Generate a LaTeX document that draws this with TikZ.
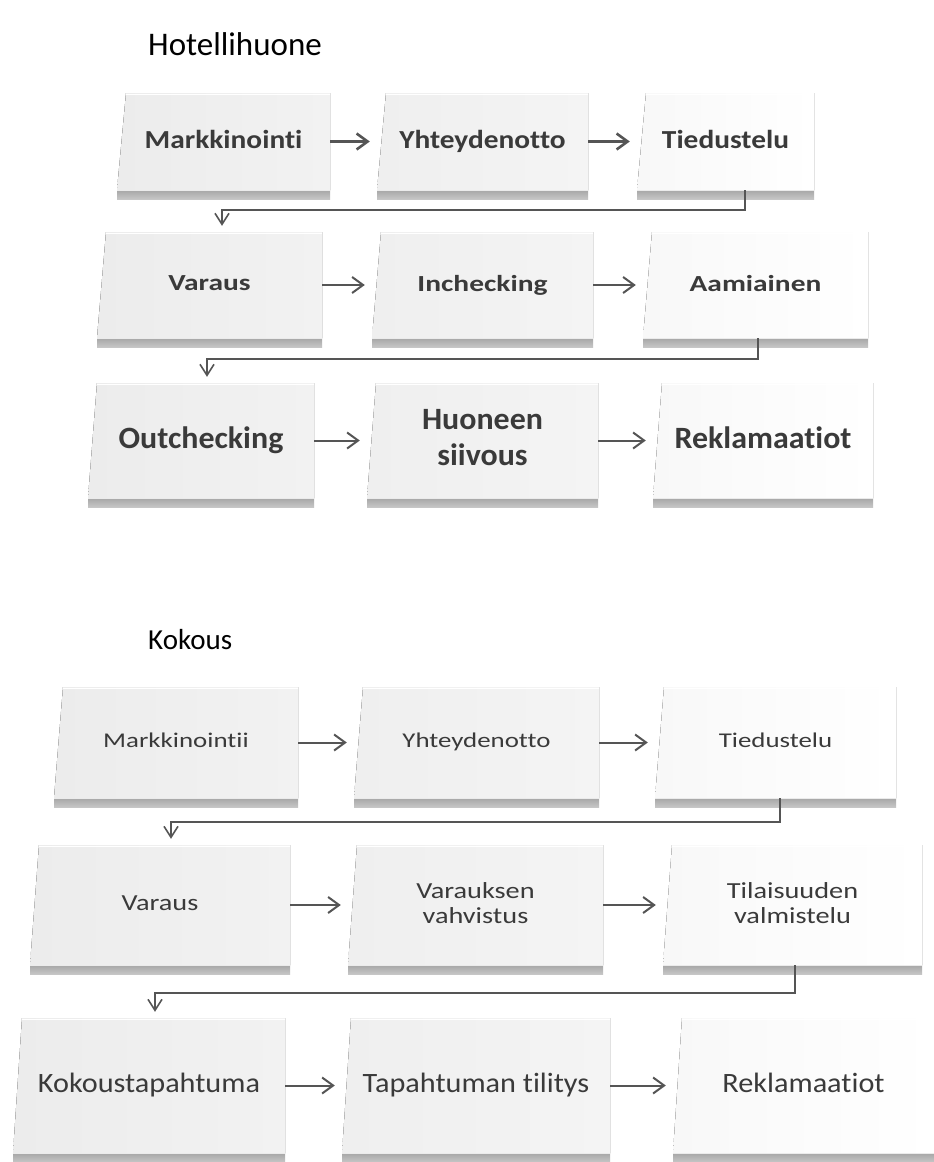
\documentclass[tikz,border=0pt]{standalone}
\usepackage{fontspec}
\defaultfontfeatures{Ligatures={NoCommon,TeX}}
\setmainfont{Carlito}
\usetikzlibrary{arrows.meta}
\newfontfamily\fRA[FakeStretch=1.13]{Carlito}
\newfontfamily\fRB[FakeStretch=1.28]{Carlito}
\newfontfamily\fRC[FakeStretch=1.03]{Carlito}
\newfontfamily\fKA[FakeStretch=1.28]{Carlito}
\newfontfamily\fKB[FakeStretch=1.23]{Carlito}
\newfontfamily\fKC[FakeStretch=1.08]{Carlito}
\definecolor{txtgray}{HTML}{3A3A3A}
\definecolor{lnc}{HTML}{555555}
\definecolor{shadA}{HTML}{A6A6A6}
\definecolor{shadB}{HTML}{C6C6C6}
\definecolor{cA}{HTML}{ECECEC}
\definecolor{cAr}{HTML}{F2F2F2}
\definecolor{cB}{HTML}{EFEFEF}
\definecolor{cBr}{HTML}{F4F4F4}
\definecolor{cC}{HTML}{F8F8F8}
\definecolor{cCr}{HTML}{FFFFFF}
\tikzset{
  boxtxt/.style={inner sep=0pt, text=txtgray, align=center, execute at begin node={\vphantom{Ag}}},
  arr/.style={draw=lnc, line width=2pt, shorten >=7pt, -{Straight Barb[length=11pt,width=16pt]}},
  arrbold/.style={arr, line width=2.6pt},
  elbow/.style={draw=lnc, line width=1.6pt, shorten >=6pt, -{Straight Barb[length=11pt,width=14pt]}},
  facefill/.style={left color=#1, right color=#1r},
  rowA/.style={font=\fRA\bfseries\fontsize{26}{30}\selectfont},
  rowB/.style={font=\fRB\bfseries\fontsize{23}{27}\selectfont},
  rowC/.style={font=\fRC\bfseries\fontsize{31}{36}\selectfont},
  rowD/.style={font=\fKA\fontsize{21}{25}\selectfont},
  rowE/.style={font=\fKB\fontsize{23}{25}\selectfont},
  rowF/.style={font=\fKC\fontsize{28}{32}\selectfont},
  title/.style={anchor=west, inner sep=0pt, text=black},
}
% #1 name, #2 x0, #3 x1, #4 ytop, #5 yface, #6 colour key, #7 node options, #8 text
\newcommand{\procbox}[8]{%
  \fill[facefill=#6] (#2,#5) -- (#2+9,#4) -- (#3,#4) -- (#3,#5) -- cycle;
  \draw[white, line width=1pt] (#2+9,#4+1) -- (#3,#4+1);
  \fill[top color=shadA, bottom color=shadB] (#2,#5) rectangle (#3,#5+9);
  \draw[white!92!black, line width=1pt] (#2,#5) -- (#3,#5);
  \node[boxtxt, #7, minimum width={#3-#2}, minimum height={#5-#4}] (#1) at ({(#2+#3)/2},{(#4+#5)/2}) {#8};
}
\begin{document}
\begin{tikzpicture}[x=1pt, y=-1pt]
\useasboundingbox (0,0) rectangle (934,1162);
\fill[white] (0,0) rectangle (934,1162);

% ---------- Hotellihuone ----------
\node[title, font=\fontsize{33}{40}\selectfont] (t1) at (148,44) {Hotellihuone};

\procbox{A1}{117}{330}{93}{190}{cA}{rowA}{Markkinointi}
\procbox{A2}{377}{588}{93}{190}{cB}{rowA}{Yhteydenotto}
\procbox{A3}{637}{814}{93}{190}{cC}{rowA}{Tiedustelu}

\procbox{B1}{97}{322}{232}{338}{cA}{rowB}{Varaus}
\procbox{B2}{372}{593}{232}{338}{cB}{rowB}{Inchecking}
\procbox{B3}{643}{868}{232}{338}{cC}{rowB}{Aamiainen}

\procbox{C1}{88}{314}{383}{498}{cA}{rowC}{Outchecking}
\procbox{C2}{367}{598}{383}{498}{cB}{rowC}{Huoneen\\siivous}
\procbox{C3}{653}{873}{383}{498}{cC}{rowC}{Reklamaatiot}

\draw[arrbold] (A1.east) -- (A2.west);
\draw[arrbold] (A2.east) -- (A3.west);
\draw[arr] (B1.east) -- (B2.west);
\draw[arr] (B2.east) -- (B3.west);
\draw[arr] (C1.east) -- (C2.west);
\draw[arr] (C2.east) -- (C3.west);

\coordinate (eA) at (745,210);
\coordinate (eA2) at (222,210);
\draw[elbow] (A3.south -| eA) -- (eA) -- (eA2) -- (B1.north -| eA2);
\coordinate (eB) at (758,359);
\coordinate (eB2) at (207,359);
\draw[elbow] (B3.south -| eB) -- (eB) -- (eB2) -- (C1.north -| eB2);

% ---------- Kokous ----------
\node[title, font=\fontsize{29}{35}\selectfont] (t2) at (148,640) {Kokous};

\procbox{D1}{54}{298}{687}{798}{cA}{rowD}{Markkinointii}
\procbox{D2}{354}{599}{687}{798}{cB}{rowD}{Yhteydenotto}
\procbox{D3}{655}{896}{687}{798}{cC}{rowD}{Tiedustelu}

\procbox{E1}{30}{290}{845}{965}{cA}{rowE}{Varaus}
\procbox{E2}{348}{603}{845}{965}{cB}{rowE}{Varauksen\\vahvistus}
\procbox{E3}{663}{922}{845}{965}{cC}{rowE}{Tilaisuuden\\valmistelu}

\procbox{F1}{13}{285}{1018}{1153}{cA}{rowF}{Kokoustapahtuma}
\procbox{F2}{342}{610}{1018}{1153}{cB}{rowF}{Tapahtuman tilitys}
\procbox{F3}{673}{934}{1018}{1153}{cC}{rowF}{Reklamaatiot}

\draw[arr] (D1.east) -- (D2.west);
\draw[arr] (D2.east) -- (D3.west);
\draw[arr] (E1.east) -- (E2.west);
\draw[arr] (E2.east) -- (E3.west);
\draw[arr] (F1.east) -- (F2.west);
\draw[arr] (F2.east) -- (F3.west);

\coordinate (eD) at (780,822);
\coordinate (eD2) at (171,822);
\draw[elbow] (D3.south -| eD) -- (eD) -- (eD2) -- (E1.north -| eD2);
\coordinate (eE) at (795,993);
\coordinate (eE2) at (155,993);
\draw[elbow] (E3.south -| eE) -- (eE) -- (eE2) -- (F1.north -| eE2);
\end{tikzpicture}
\end{document}
